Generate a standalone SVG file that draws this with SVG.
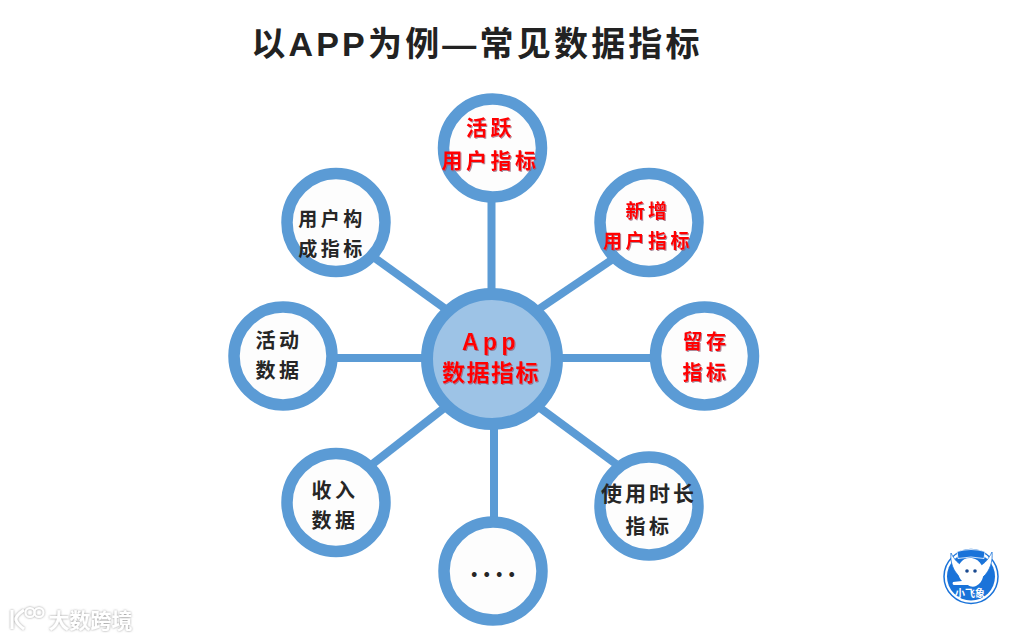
<svg xmlns="http://www.w3.org/2000/svg" width="1017" height="639" viewBox="0 0 1017 639">
<defs>
<style>
text{font-family:"Noto Sans CJK SC","Liberation Sans",sans-serif;font-weight:700;text-anchor:middle}
.ring{fill:#fdfdfd;stroke:#5b9bd5;stroke-width:11.500}
.con{stroke:#5b9bd5;stroke-width:8;fill:none}
.r{fill:#f00;font-size:20px;letter-spacing:3.500px}
.k{fill:#262626;font-size:20px;letter-spacing:3.500px}
.wm{fill:#fff;font-size:21px;font-weight:700}
.lat{font-family:"Liberation Sans",sans-serif}
</style>
<filter id="sh" x="-10%" y="-10%" width="120%" height="120%"><feDropShadow dx="1" dy="1" stdDeviation="0.4" flood-color="#8a5a70" flood-opacity="0.7"/></filter>
<filter id="gl" x="-10%" y="-20%" width="120%" height="140%"><feDropShadow dx="0" dy="0" stdDeviation="1.200" flood-color="#777" flood-opacity="0.8"/></filter>
</defs>
<rect width="1017" height="639" fill="#fff"/>
<text id="title" x="477" y="56" style="font-size:34px;letter-spacing:3.200px" fill="#222">以<tspan class="lat">APP</tspan>为例<tspan class="lat">—</tspan>常见数据指标</text>
<g id="connectors" class="con">
<line x1="491.500" y1="359" x2="491.500" y2="200"/>
<line x1="536" y1="311" x2="616" y2="257"/>
<line x1="492" y1="358" x2="655" y2="358"/>
<line x1="536" y1="405" x2="616" y2="464"/>
<line x1="494" y1="359" x2="494" y2="520"/>
<line x1="448" y1="405" x2="370" y2="466"/>
<line x1="492" y1="358" x2="335" y2="358"/>
<line x1="447" y1="310" x2="372" y2="256"/>
</g>
<g id="center"><circle cx="492" cy="359" r="65" fill="#9dc3e6" stroke="#5b9bd5" stroke-width="12"/>
<text x="491" y="350" style="font-family:'Liberation Sans',sans-serif;font-size:23px;letter-spacing:4.500px;fill:#f00" filter="url(#sh)">App</text>
<text x="491" y="381" class="r" style="font-size:23px;letter-spacing:1.500px" filter="url(#sh)">数据指标</text></g>
<g id="n1"><circle class="ring" cx="492.500" cy="148" r="49"/>
<text x="490.500" y="135" class="r" style="font-size:21px" filter="url(#sh)">活跃</text><text x="490.500" y="168" class="r" style="font-size:21px" filter="url(#sh)">用户指标</text></g>
<g id="n2"><circle class="ring" cx="649" cy="222.500" r="49"/>
<text x="648" y="218" class="r" style="font-size:19px" filter="url(#sh)">新增</text><text x="648" y="248" class="r" style="font-size:19px" filter="url(#sh)">用户指标</text></g>
<g id="n3"><circle class="ring" cx="704.500" cy="356" r="49"/>
<text x="706" y="349" class="r" filter="url(#sh)">留存</text><text x="706" y="380" class="r" filter="url(#sh)">指标</text></g>
<g id="n4"><circle class="ring" cx="649" cy="506" r="49"/>
<text x="649" y="501" class="k" style="font-size:21px;letter-spacing:3px">使用时长</text><text x="649" y="534" class="k">指标</text></g>
<g id="n5"><circle class="ring" cx="493" cy="571" r="49"/>
<text x="495" y="577" class="k" style="font-size:26px;letter-spacing:4px">....</text></g>
<g id="n6"><circle class="ring" cx="336" cy="502.500" r="49"/>
<text x="335" y="498" class="k">收入</text><text x="335" y="528" class="k">数据</text></g>
<g id="n7"><circle class="ring" cx="283" cy="356" r="49"/>
<text x="279" y="348" class="k">活动</text><text x="279" y="378" class="k">数据</text></g>
<g id="n8"><circle class="ring" cx="336" cy="222.500" r="49"/>
<text x="332" y="226" class="k" style="font-size:19px">用户构</text><text x="332" y="256" class="k" style="font-size:19px">成指标</text></g>
<g id="logo">
<circle cx="971" cy="576.500" r="27" fill="#fff" stroke="#1a73d9" stroke-width="1.500"/>
<circle cx="971" cy="576.500" r="24" fill="#1a73d9"/>
<path d="M951 553c-1 9 2 18 9 24l4-11c-6-2-10-7-13-13zM992 552c1 9-2 19-9 25l-4-11c6-2 10-8 13-14z" fill="#fff" stroke="#1a73d9" stroke-width="0.800"/>
<path d="M957 551.500q14-4 28 0l-1 7q-13-3-26 0z" fill="#1a73d9" stroke="#fff" stroke-width="0.800"/>
<path d="M970 558c-9 0-13 8-12 15 1 4 2 6 4 8l-9 1c-1 2 0 3 1 3h14c2 2 6 2 8 1 4-2 6-5 7-9 2-9-3-19-13-19z" fill="#fff"/>
<circle cx="967" cy="571" r="1.800" fill="#1a4a90"/><circle cx="975" cy="571" r="1.800" fill="#1a4a90"/>
<text x="970" y="597" style="font-size:10px" fill="#fff">小飞象</text>
</g>
<g id="watermark">
<g filter="url(#gl)" fill="none" stroke="#fff">
<path d="M12 610v19M24 610q-9 6-8 10t8 9" stroke-width="3"/>
<circle cx="30" cy="612.500" r="4.500" stroke-width="2"/>
<circle cx="39" cy="612.500" r="4.500" stroke-width="2"/>
</g>
<text x="90.500" y="628" class="wm" filter="url(#gl)">大数跨境</text>
</g>
</svg>
